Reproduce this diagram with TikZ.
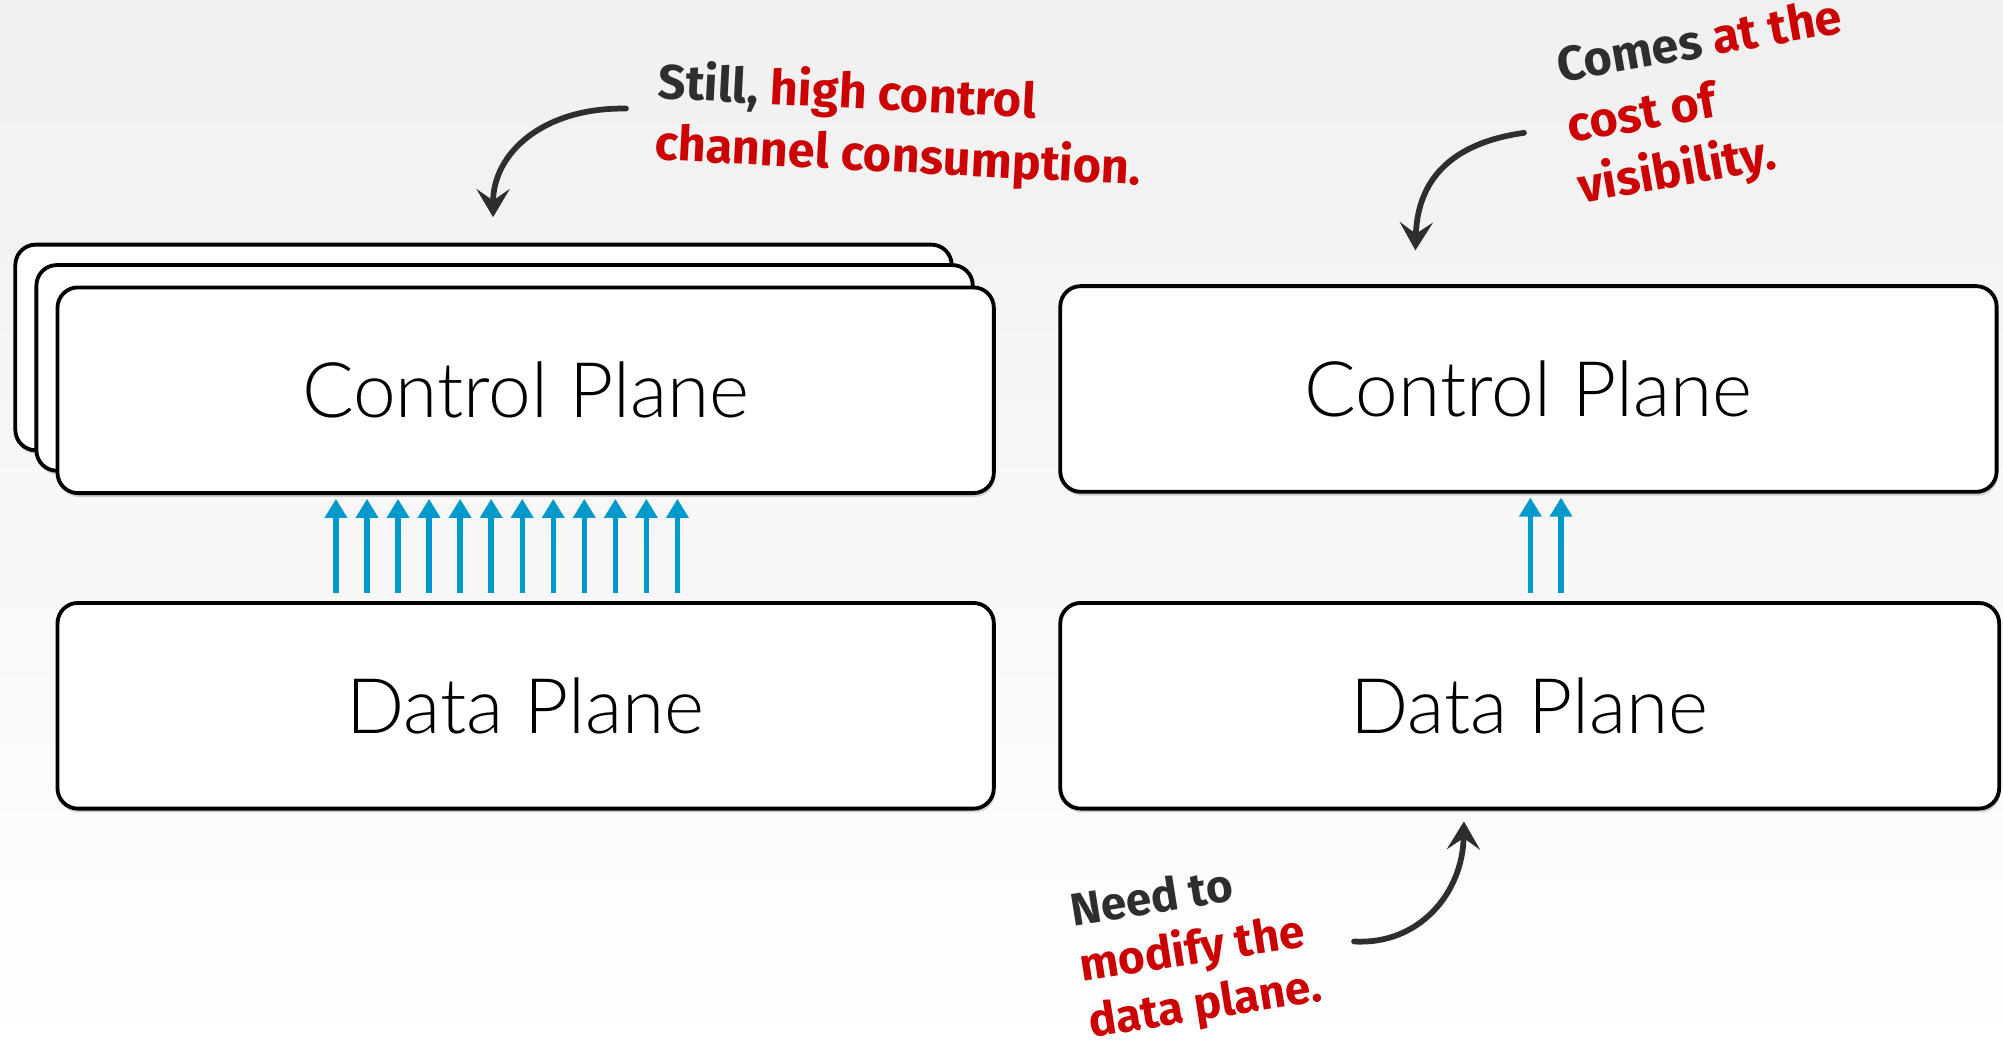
\documentclass[tikz,border=0pt]{standalone}
\usepackage{fontspec}
\setmainfont{Lato}
\newfontfamily\planefont{Lato}[UprightFont=* Light]
\newfontfamily\handfont{Fira Sans}
\usetikzlibrary{shadows,arrows.meta,calc}
\definecolor{flowblue}{HTML}{0099CC}
\definecolor{handred}{HTML}{CC0000}
\definecolor{handdark}{HTML}{2E2E2E}
\begin{document}
\begin{tikzpicture}[x=1pt,y=-1pt,
  plane/.style={draw=black, line width=3pt, fill=white, rounded corners=16pt,
    minimum width=733pt, minimum height=161pt, inner sep=0pt,
    font=\planefont\fontsize{60}{70}\selectfont,
    drop shadow={opacity=0.35, shadow xshift=1pt, shadow yshift=-3pt}},
  flow/.style={draw=flowblue, line width=4.2pt, -{Triangle[width=17pt,length=15pt]}},
  hand/.style={font=\handfont\bfseries\fontsize{38}{48}\selectfont, align=left, inner sep=0pt, text=handdark},
  handarrow/.style={draw=handdark, line width=4.5pt, line cap=round, -{Stealth[length=22pt,width=26pt,inset=9pt]}}
]
\shade[top color=black!6, bottom color=white] (0,0) rectangle (1568,824);
\useasboundingbox (0,0) rectangle (1568,824);

% left stack
\node[plane] (lb1) at (378.5,272) {};
\node[plane] (lb2) at (395,288) {};
\node[plane] (lcp) at (411.5,305.5) {Control Plane};
\node[plane] (ldp) at (411.5,552.5) {Data Plane};
% right
\node[plane] (rcp) at (1196.5,304.5) {Control Plane};
\node[plane, minimum width=735pt] (rdp) at (1197.5,552.5) {Data Plane};

% flows
\foreach \i in {0,...,11} {
  \draw[flow, shorten <=6pt, shorten >=3pt] ({263+\i*24.3},0 |- ldp.north) -- ({263+\i*24.3},0 |- lcp.south);
}
\foreach \xx in {1198,1222} {
  \draw[flow, shorten <=6pt, shorten >=3pt] (\xx,0 |- rdp.north) -- (\xx,0 |- rcp.south);
}

% annotations
\node[hand, anchor=north west, rotate=-3] (n1) at (516,46)
  {Still, \textcolor{handred}{high control}\\\textcolor{handred}{channel consumption.}};
\node[hand, anchor=north west, rotate=10] (n2) at (1216,36)
  {Comes \textcolor{handred}{at the}\\\textcolor{handred}{cost of}\\\textcolor{handred}{visibility.}};
\node[hand, anchor=north west, rotate=9, font=\handfont\bfseries\fontsize{36}{44}\selectfont] (n3) at (836,698)
  {Need to\\\textcolor{handred}{modify the}\\\textcolor{handred}{data plane.}};

\coordinate (a1s) at (490,85);
\coordinate (a1e) at (386,170);
\coordinate (a2s) at (1193,104);
\coordinate (a2e) at (1108,196);
\coordinate (a3s) at (1060,737);
\coordinate (a3e) at (1146,643);
\draw[handarrow] (a1s) .. controls (425,84) and (386,120) .. (a1e);
\draw[handarrow] (a2s) .. controls (1150,110) and (1110,130) .. (a2e);
\draw[handarrow] (a3s) .. controls (1110,740) and (1145,700) .. (a3e);
\end{tikzpicture}
\end{document}
